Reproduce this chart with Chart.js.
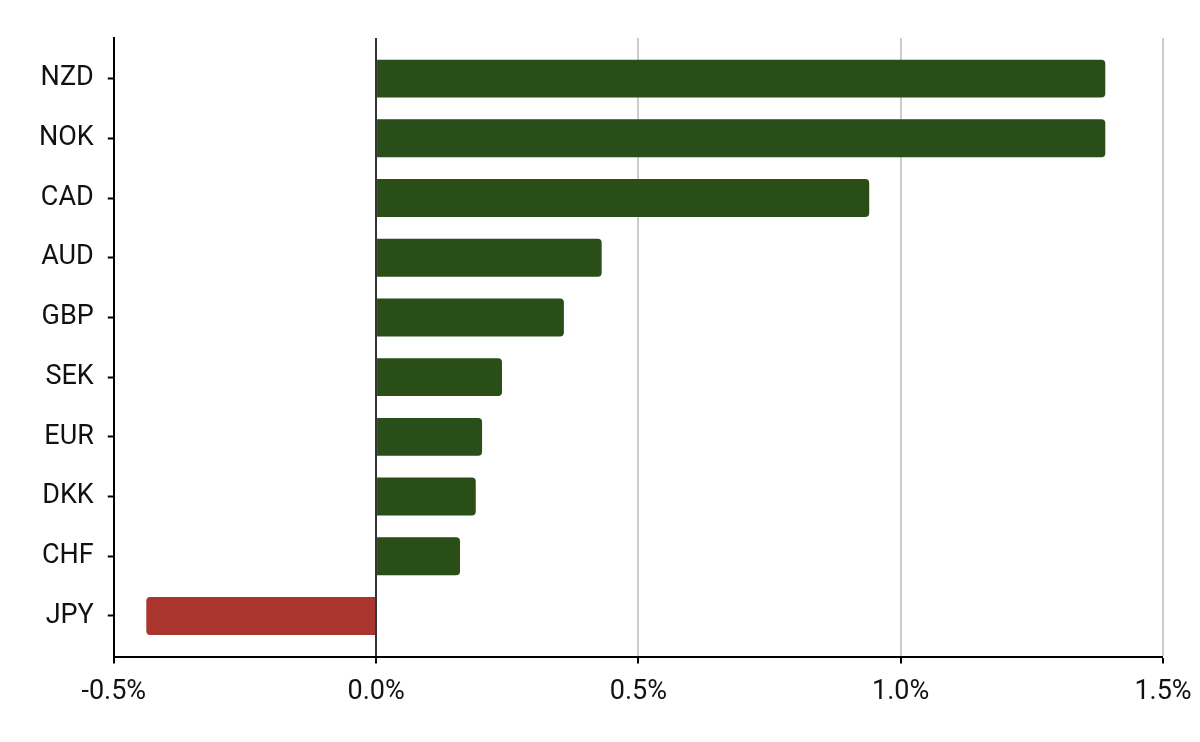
<!DOCTYPE html>
<html>
<head>
<meta charset="utf-8">
<script src="https://cdn.jsdelivr.net/npm/chart.js@4"></script>
<style>
  html, body { margin: 0; padding: 0; background: #fff; }
  #wrap { width: 1200px; height: 742px; }
</style>
</head>
<body>
<div id="wrap"><canvas id="myChart"></canvas></div>
<script>
const currencies = ["NZD", "NOK", "CAD", "AUD", "GBP", "SEK", "EUR", "DKK", "CHF", "JPY"];
const changes = [1.39, 1.39, 0.94, 0.43, 0.358, 0.24, 0.202, 0.19, 0.16, -0.438];
const xTicks = [-0.5, 0.0, 0.5, 1.0, 1.5];

const GREEN = "#294e17";
const RED = "#a9352e";

const ctx = document.querySelector("#myChart");

const myChart = new Chart(ctx, {
  type: "bar",
  data: {
    datasets: [
      {
        // y = 순번 (linear 축), x = 변화율
        data: currencies.map((c, i) => ({ x: changes[i], y: i })),
        backgroundColor: changes.map((v) => (v < 0 ? RED : GREEN)),
        borderRadius: 4,
        barPercentage: 0.635,
        categoryPercentage: 1.0,
      },
    ],
  },
  options: {
    indexAxis: "y",
    responsive: true,
    maintainAspectRatio: false,
    animation: { duration: 0 },
    layout: { padding: { top: 38, right: 37, bottom: 22, left: 25 } },
    plugins: {
      legend: false,
      tooltip: { enabled: false },
    },
    scales: {
      x: {
        type: "linear",
        min: xTicks[0],
        max: xTicks[xTicks.length - 1],
        afterBuildTicks: (axis) => {
          axis.ticks = xTicks.map((v) => ({ value: v }));
        },
        // 마지막 라벨이 오른쪽 여백을 넓히지 않도록
        afterFit: (axis) => {
          axis.paddingRight = 0;
        },
        border: { display: true, color: "#000", width: 2 },
        grid: {
          color: (c) => (c.tick && c.tick.value === 0 ? "#333" : "#cccccc"),
          lineWidth: (c) => (c.tick && c.tick.value === xTicks[0] ? 0 : 2),
          drawTicks: true,
          tickLength: 7,
          tickColor: "#000",
          tickWidth: 2,
        },
        ticks: {
          color: "#111",
          padding: 12,
          font: { family: "Roboto", size: 27 },
          callback: (v) => Number(v).toFixed(1) + "%",
          maxRotation: 0,
        },
      },
      y: {
        type: "linear",
        reverse: true,
        offset: false,
        min: -0.68,
        max: currencies.length - 1 + 0.68,
        afterBuildTicks: (axis) => {
          axis.ticks = currencies.map((c, i) => ({ value: i }));
        },
        border: { display: true, color: "#000", width: 2 },
        grid: {
          offset: false,
          drawOnChartArea: false,
          drawTicks: true,
          tickLength: 6,
          tickColor: "#000",
          tickWidth: 2,
        },
        ticks: {
          color: "#111",
          padding: 14,
          font: { family: "Roboto", size: 27 },
          callback: (v) => currencies[v],
        },
      },
    },
  },
});
</script>
</body>
</html>
